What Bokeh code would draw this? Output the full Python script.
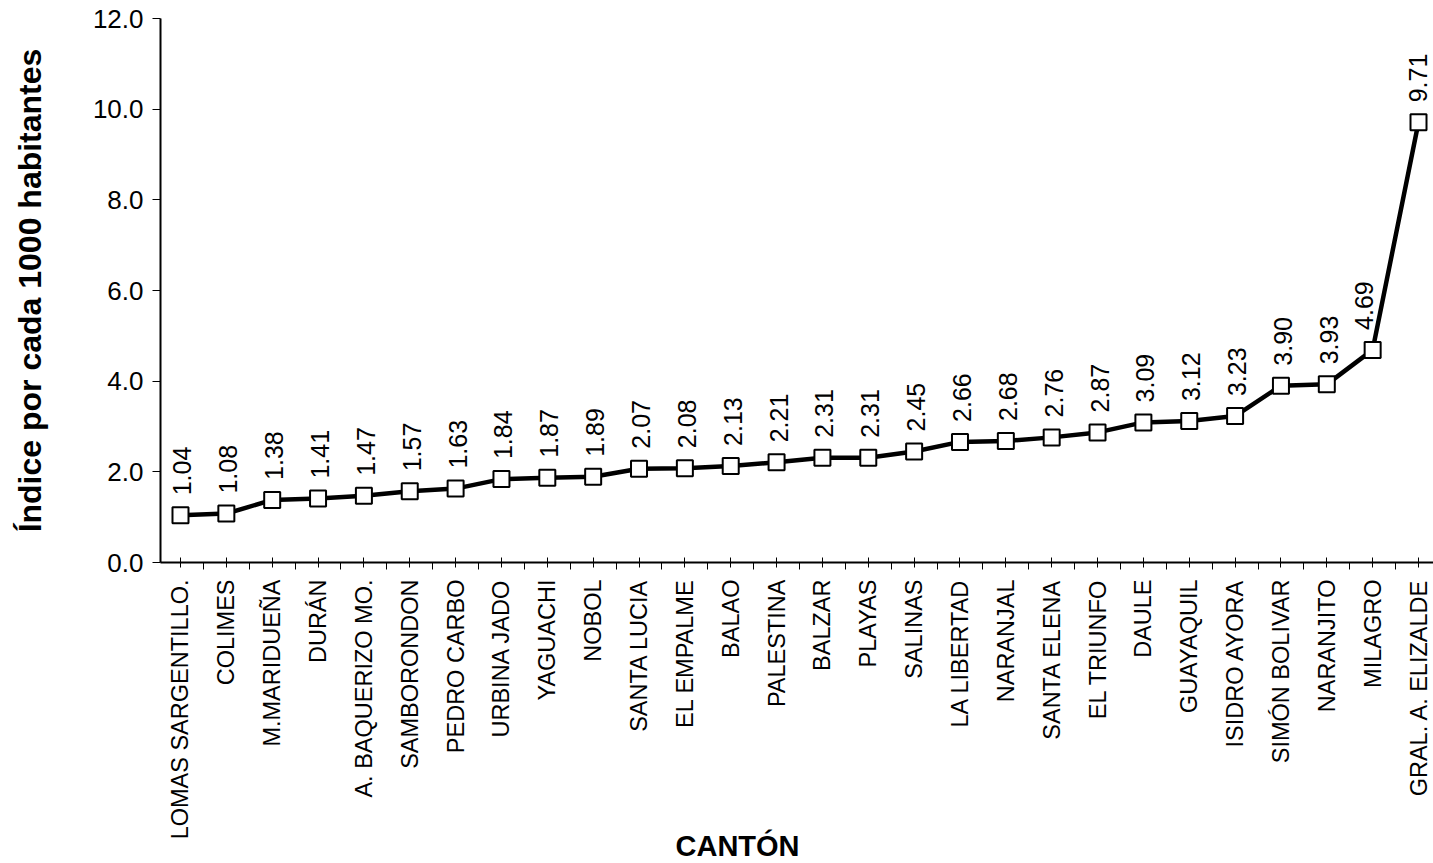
import math
from bokeh.plotting import figure
from bokeh.models import FixedTicker, Range1d, Title, ColumnDataSource, PrintfTickFormatter
from bokeh.core.properties import value
from bokeh.embed import file_html
from bokeh.resources import INLINE

cantones = ["LOMAS SARGENTILLO.", "COLIMES", "M.MARIDUEÑA", "DURÁN", "A. BAQUERIZO MO.",
            "SAMBORONDON", "PEDRO CARBO", "URBINA JADO", "YAGUACHI", "NOBOL",
            "SANTA LUCIA", "EL EMPALME", "BALAO", "PALESTINA", "BALZAR", "PLAYAS",
            "SALINAS", "LA LIBERTAD", "NARANJAL", "SANTA ELENA", "EL TRIUNFO", "DAULE",
            "GUAYAQUIL", "ISIDRO AYORA", "SIMÓN BOLIVAR", "NARANJITO", "MILAGRO",
            "GRAL. A. ELIZALDE"]
indices = [1.04, 1.08, 1.38, 1.41, 1.47, 1.57, 1.63, 1.84, 1.87, 1.89, 2.07, 2.08,
           2.13, 2.21, 2.31, 2.31, 2.45, 2.66, 2.68, 2.76, 2.87, 3.09, 3.12, 3.23,
           3.90, 3.93, 4.69, 9.71]
y_ticks = [0, 2, 4, 6, 8, 10, 12]

FONT = "Liberation Sans"

xs = list(range(len(cantones)))
lab_dx = [2] * len(xs)
lab_dx[-2] = -9  # the 4.69 label sits left of the steep segment
lab_dx[-1] = -1
src = ColumnDataSource(dict(x=xs, y=indices, lab=["%.2f" % v for v in indices], dx=lab_dx))

p = figure(width=1433, height=863,
           x_range=Range1d(-0.436, len(cantones) - 1 + 0.327),
           y_range=Range1d(0, 12),
           output_backend="svg", toolbar_location=None,
           min_border_left=160, min_border_top=18, min_border_bottom=301,
           min_border_right=0)
p.outline_line_color = None
p.xgrid.visible = False
p.ygrid.visible = False
p.background_fill_color = "white"
p.border_fill_color = "white"

p.line("x", "y", source=src, line_width=4.5, line_color="black")
p.scatter("x", "y", source=src, marker="square", size=16, fill_color="white",
          line_color="black", line_width=2)
p.text("x", "y", text="lab", source=src, angle=math.pi / 2,
       text_align="left", text_baseline="middle", x_offset="dx", y_offset=-20,
       text_font=value(FONT), text_font_size="25px", text_color="black")

# x axis
xa = p.xaxis[0]
xa.ticker = FixedTicker(ticks=xs, minor_ticks=[i + 0.5 for i in xs] + [-0.5])
xa.major_label_overrides = {i: c for i, c in enumerate(cantones)}
xa.major_label_orientation = math.pi / 2
xa.major_label_text_font = FONT
xa.major_label_text_font_size = "23.5px"
xa.major_label_text_color = "black"
xa.major_label_standoff = 10
xa.major_tick_in = 5
xa.major_tick_out = 5
xa.minor_tick_in = 0
xa.minor_tick_out = 7
xa.axis_line_width = 2
xa.axis_line_color = "black"
xa.major_tick_line_color = "black"
xa.minor_tick_line_color = "black"

# y axis
ya = p.yaxis[0]
ya.ticker = FixedTicker(ticks=y_ticks)
ya.formatter = PrintfTickFormatter(format="%.1f")
ya.major_label_text_font = FONT
ya.major_label_text_font_size = "26px"
ya.major_label_text_color = "black"
ya.major_label_standoff = 9
ya.major_tick_in = 0
ya.major_tick_out = 8
ya.minor_tick_line_color = None
ya.axis_line_width = 2
ya.axis_line_color = "black"
ya.axis_label = "Índice por cada 1000 habitantes"
ya.axis_label_text_font = FONT
ya.axis_label_text_font_size = "32px"
ya.axis_label_text_font_style = "bold"
ya.axis_label_text_color = "black"
ya.axis_label_standoff = 42

p.add_layout(Title(text="CANTÓN", align="left", offset=515, standoff=-38,
                   text_font=FONT, text_font_size="29px",
                   text_font_style="bold", text_color="black"), "below")

open("out.html", "w").write(file_html(p, INLINE))
